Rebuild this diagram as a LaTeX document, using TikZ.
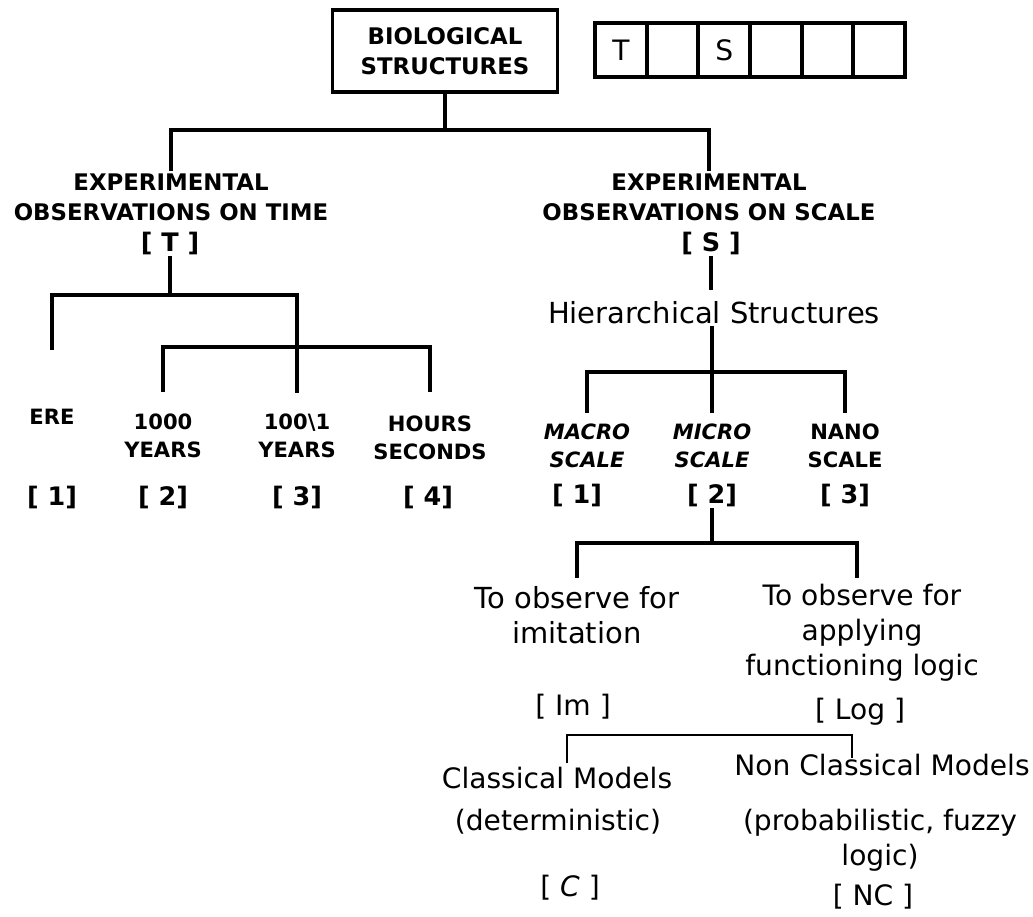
\documentclass[tikz,border=0pt]{standalone}
\usepackage{fontspec}
\setmainfont{DejaVu Sans}

\begin{document}
\begin{tikzpicture}[x=0.02cm,y=-0.02cm,
  tree/.style={line width=2.2pt},
  thintree/.style={line width=1.3pt},
  caps/.style={font=\fontsize{13}{17}\selectfont\bfseries,align=center,inner sep=1pt},
  lowcaps/.style={font=\fontsize{12}{16}\selectfont\bfseries,align=center,inner sep=1pt},
  words/.style={font=\fontsize{16}{20}\selectfont,align=center,inner sep=1pt},
  tag/.style={font=\fontsize{14.5}{17}\selectfont\bfseries,inner sep=1pt},
  wordtag/.style={font=\fontsize{16}{20}\selectfont,inner sep=1pt},
  cell/.style={draw,line width=2.2pt,minimum width=1.033cm,minimum height=1.08cm,font=\fontsize{16}{18}\selectfont}]
  \useasboundingbox (0,0) rectangle (1033,916);
  \node[caps,draw,line width=2pt,minimum width=4.5cm,minimum height=1.64cm] (bio) at (445,51) {BIOLOGICAL\\STRUCTURES};
  \foreach \i/\l in {1/T,2/{},3/S,4/{},5/{},6/{}}
    \node[cell] (cell\i) at ({569.2+51.67*\i},50) {\l};
  \node[caps] (time) at (171,197) {EXPERIMENTAL\\OBSERVATIONS ON TIME};
  \node[tag] (timeT) at (170,243) {[ T ]};
  \node[caps] (scale) at (709,197) {EXPERIMENTAL\\OBSERVATIONS ON SCALE};
  \node[tag] (scaleS) at (711,243) {[ S ]};
  \draw[tree] (bio) -- (445,130) coordinate (bus1) -| (time.north);
  \draw[tree] (bus1) -| (scale.north);

  \node[lowcaps] (ere) at (52,417) {ERE};
  \node[lowcaps] (y1000) at (163,436) {1000\\YEARS};
  \node[lowcaps] (y100) at (297,436) {100\textbackslash 1\\YEARS};
  \node[lowcaps] (hours) at (430,438) {HOURS\\SECONDS};
  \foreach \n/\x/\t in {b1/52/1,b2/163/2,b3/297/3,b4/428/4}
    \node[tag] (\n) at (\x,497) {[ \t ]};
  \draw[tree] (timeT.south) -- (timeT |- 0,295);
  \draw[tree] (ere |- 0,350) |- (timeT |- 0,295) -| (y100 |- 0,393);
  \draw[tree] (y1000 |- 0,392) |- (hours |- 0,347) -- (hours |- 0,392);

  \node[words,font=\fontsize{16.5}{20}\selectfont] (hier) at (714,313) {Hierarchical Structures};
  \node[lowcaps,font=\fontsize{12}{16}\selectfont\bfseries\itshape] (macro) at (587,446) {MACRO\\SCALE};
  \node[lowcaps,font=\fontsize{12}{16}\selectfont\bfseries\itshape] (micro) at (712,446) {MICRO\\SCALE};
  \node[lowcaps] (nano) at (845,446) {NANO\\SCALE};
  \foreach \n/\x/\t in {s1/577/1,s2/712/2,s3/845/3}
    \node[tag] (\n) at (\x,495) {[ \t ]};
  \draw[tree] (scaleS.south) -- (scaleS |- 0,290);
  \draw[tree] (micro |- hier.south) -- (micro |- 0,413);
  \draw[tree] (macro |- 0,413) |- (nano |- 0,372) -- (nano |- 0,413);

  \node[words,font=\fontsize{16.5}{20}\selectfont] (imit) at (577,615) {To observe for\\imitation};
  \node[words] (logic) at (862,633) {To observe for\\applying\\functioning logic};
  \node[wordtag] (im) at (573,707) {[ Im ]};
  \node[wordtag] (lg) at (860,712) {[ Log ]};
  \coordinate (logtop) at (857,578);
  \draw[tree] (s2.south) -- (s2 |- 0,543);
  \draw[tree] (imit |- 0,578) |- (logtop |- 0,543) -- (logtop);

  \node[words] (classic) at (557,778) {Classical Models};
  \node[words] (det) at (558,822) {(deterministic)};
  \node[wordtag] (cC) at (570,888) {[ \textit{C} ]};
  \node[words] (nonclassic) at (882,765) {Non Classical Models};
  \node[words] (prob) at (880,840) {(probabilistic, fuzzy\\logic)};
  \node[wordtag] (nc) at (873,897) {[ NC ]};
  \coordinate (cL) at (567,763);
  \coordinate (cR) at (852,758);
  \draw[thintree] (cL) |- (cR |- 0,735) -- (cR);
\end{tikzpicture}
\end{document}
